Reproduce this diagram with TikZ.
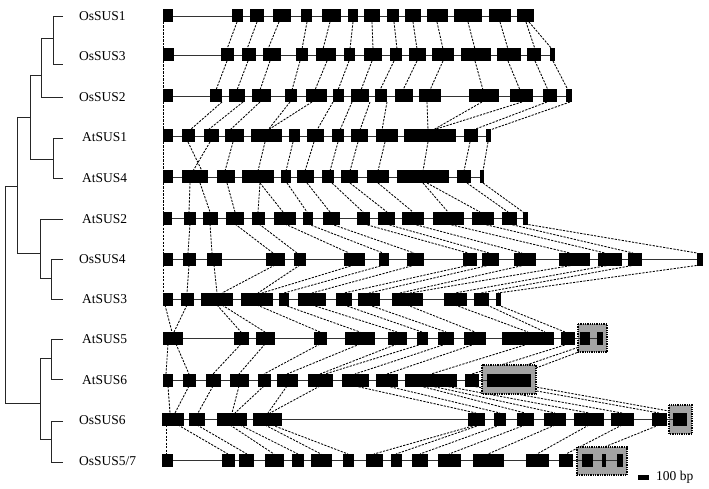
\documentclass[tikz,border=0pt]{standalone}
\usepackage{fontspec}
\setmainfont{Liberation Serif}
\newcommand\generow[3]{\draw[intron] (163,#1) -- (#2,#1);
  \foreach \a/\b in {#3} {\fill[exon] (\a,#1-6.5) rectangle (\b,#1+6.5);}}
\newcommand\linkrows[3]{\foreach \p/\q in {#3} {\draw[conn] (\p,#1+6) -- (\q,#2-6);}}
\begin{document}
\begin{tikzpicture}[x=1pt,y=-1pt,
  exon/.style={fill=black},
  intron/.style={draw=black!80,line width=0.8pt},
  conn/.style={draw=black,line width=0.85pt,dash pattern=on 2.2pt off 1.3pt},
  tree/.style={draw=black!85,line width=0.9pt},
  lbl/.style={anchor=west,inner sep=0pt,font=\fontsize{13.5}{14}\selectfont},
  utrbox/.style={fill=black!36,draw=black,line width=1.4pt,dash pattern=on 1.3pt off 1pt}]
\useasboundingbox (0,0) rectangle (709,489);
% ---------- tree ----------
\draw[tree] (63,16) -- (53,16) -- (53,64) -- (63,64);
\draw[tree] (53,38) -- (41,38);
\draw[tree] (41,38) -- (41,97) -- (63,97);
\draw[tree] (41,75) -- (30,75);
\draw[tree] (63,138) -- (53,138) -- (53,178) -- (63,178);
\draw[tree] (53,159) -- (30,159);
\draw[tree] (30,75) -- (30,159);
\draw[tree] (30,117) -- (17,117);
\draw[tree] (63,219) -- (40,219) -- (40,278);
\draw[tree] (63,259) -- (51,259) -- (51,299) -- (63,299);
\draw[tree] (51,278) -- (40,278);
\draw[tree] (40,253) -- (17,253);
\draw[tree] (17,117) -- (17,253);
\draw[tree] (17,186) -- (5,186);
\draw[tree] (63,339) -- (51,339) -- (51,379) -- (63,379);
\draw[tree] (51,358) -- (40,358);
\draw[tree] (63,421) -- (51,421) -- (51,462) -- (63,462);
\draw[tree] (51,439) -- (40,439);
\draw[tree] (40,358) -- (40,439);
\draw[tree] (40,403) -- (5,403);
\draw[tree] (5,186) -- (5,403);
% ---------- labels ----------
\node[lbl] (l1) at (79,16) {OsSUS1};
\node[lbl] (l2) at (79,56) {OsSUS3};
\node[lbl] (l3) at (79,97) {OsSUS2};
\node[lbl] (l4) at (82,137) {AtSUS1};
\node[lbl] (l5) at (82,178) {AtSUS4};
\node[lbl] (l6) at (82,219) {AtSUS2};
\node[lbl] (l7) at (79,259) {OsSUS4};
\node[lbl] (l8) at (82,299) {AtSUS3};
\node[lbl] (l9) at (82,339) {AtSUS5};
\node[lbl] (l10) at (82,380) {AtSUS6};
\node[lbl] (l11) at (79,420) {OsSUS6};
\node[lbl] (l12) at (79,461) {OsSUS5/7};
% ---------- dashed connectors ----------
\linkrows{16}{55}{163/163,237/227,257/247,279/268,307/302,330/323,353/350,372/373,394/397,413/417,437/443,468/475,500/508,526/535,529/552}
\linkrows{55}{96}{163/163,227/216,248/237,270/260,300/292,327/315,349/338,372/361,394/380,417/403,443/430,475/483,508/520,535/548,553/568}
\linkrows{96}{136}{163/163,222/190,243/208,260/230,290/268,312/268,333/317,352/340,370/360,387/382,427/428,482/433,522/433,547/473,570/490}
\linkrows{136}{177}{163/163,188/202,210/193,233/225,265/258,293/286,314/305,338/330,358/350,385/378,428/423,470/464,488/483}
\linkrows{177}{218}{163/163,190/189,200/210,227/235,260/258,260/283,287/307,307/330,332/363,350/387,378/413,423/448,427/480,467/508,483/523}
\linkrows{218}{259}{163/163,190/188,210/212,235/273,259/297,285/349,308/383,331/414,364/468,386/489,413/522,448/570,483/605,509/633,525/697}
\linkrows{259}{299}{163/163,189/187,214/217,275/222,300/258,354/262,384/284,415/312,470/344,490/369,525/400,574/410,610/455,635/481,700/498}
\linkrows{299}{338}{165/172,187/174,217/241,222/265,257/320,284/360,312/397,344/422,369/446,407/475,455/528,487/545,498/565}
\linkrows{338}{380}{168/166,176/189,241/213,265/239,320/264,360/287,397/320,422/325,446/355,475/387,528/431,568/472,588/500,600/520}
\linkrows{380}{419}{168/170,189/175,213/198,239/232,264/235,287/268,320/270,355/476,387/500,420/525,431/555,445/589,472/622,509/659,530/680}
\linkrows{419}{460}{166/166,178/228,197/247,230/274,240/298,265/321,272/348,476/374,480/396,500/420,525/449,555/488,589/537,622/566,659/587}
% ---------- UTR boxes ----------
\draw[utrbox] (578,324) rectangle (607,352);
\draw[utrbox] (482,365) rectangle (536,394);
\draw[utrbox] (669,405) rectangle (692,434);
\draw[utrbox] (577,447) rectangle (627,475);
% ---------- gene structures ----------
\generow{16}{534}{163/173,232/243,250/264,273/291,301/312,322/341,348/358,364/380,387/399,405/421,427/448,454/482,489/511,517/534}
\generow{55}{555}{163/174,221/234,242/256,263/281,296/308,316/336,344/355,364/382,390/402,409/426,432/454,461/491,497/521,527/541,550/555}
\generow{96}{572}{163/173,210/222,229/245,252/271,285/297,306/327,333/344,351/369,375/387,395/413,419/441,469/499,510/533,543/557,566/572}
\generow{136}{491}{163/173,182/195,204/219,225/244,251/282,289/300,307/324,332/344,351/368,376/398,404/456,464/478,486/491}
\generow{177}{484}{163/173,182/208,217/235,242/274,281/291,297/314,322/334,341/358,367/389,397/449,457/471,480/484}
\generow{218}{528}{163/172,184/196,203/218,226/244,252/265,274/296,303/313,323/340,357/370,378/395,402/424,433/464,472/494,502/517,523/528}
\generow{259}{703}{163/173,183/196,207/222,266/285,294/306,344/365,379/389,407/424,463/477,482/499,514/536,559/590,598/622,628/642,697/703}
\generow{299}{501}{163/173,181/194,201/233,241/273,279/289,298/326,336/352,358/380,392/423,444/467,474/489,496/501}
\generow{338}{603}{163/183,234/249,256/275,314/327,345/375,388/407,417/428,438/454,464/486,502/554,561/575,580/590,597/603}
\generow{380}{531}{163/173,183/196,206/221,230/249,258/271,277/298,308/333,342/369,376/398,405/457,465/479,487/531}
\generow{419}{687}{162/184,189/205,217/247,253/282,468/485,494/506,517/534,544/566,574/604,611/634,652/667,673/687}
\generow{460}{623}{162/173,222/235,239/254,265/284,292/304,311/332,343/354,366/383,391/402,412/428,438/461,473/504,526/549,559/573,582/593,602/606,617/623}
% ---------- scale bar ----------
\fill (638,474.5) rectangle (649,479.5);
\node[lbl] (scale) at (656,477) {100 bp};
\end{tikzpicture}
\end{document}
